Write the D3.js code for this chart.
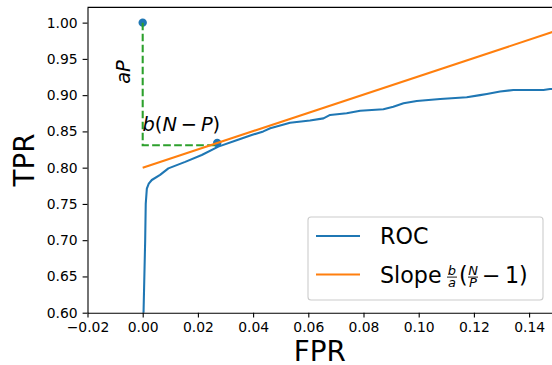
<!DOCTYPE html>
<html>
<head>
<meta charset="utf-8">
<script src="https://cdn.jsdelivr.net/npm/d3@7"></script>
<style>
  body { margin: 0; background: #fff; }
  svg { display: block; font-family: "DejaVu Sans", sans-serif; }
</style>
</head>
<body>
<div id="chart"></div>
<script>
var svgWidth = 552;
var svgHeight = 365;

// ROC curve
var rocFpr = [0.0003, 0.0003, 0.0009, 0.0011, 0.0015, 0.0022, 0.0033, 0.0063, 0.0093, 0.0154, 0.0214,
  0.0274, 0.0335, 0.0395, 0.0437, 0.0462, 0.0534, 0.0606, 0.0655, 0.0679, 0.0739, 0.0788, 0.0872,
  0.0908, 0.0945, 0.0993, 0.1078, 0.1174, 0.1222, 0.1247, 0.1295, 0.1343, 0.1452, 0.1476, 0.15];
var rocTpr = [0.50, 0.60, 0.70, 0.75, 0.771, 0.778, 0.783, 0.790, 0.799, 0.808, 0.8175,
  0.829, 0.837, 0.845, 0.850, 0.8543, 0.862, 0.865, 0.868, 0.8727, 0.875, 0.8786, 0.8805,
  0.884, 0.8888, 0.892, 0.8948, 0.897, 0.900, 0.9017, 0.9049, 0.9072, 0.9072, 0.9085, 0.9085];

// tangent line
var slopeX = [0, 0.15];
var slopeY = [0.80, 0.989];

// the two marked points and the dashed construction
var pointX = [0, 0.027];
var pointY = [1.0, 0.834];
var dashX = [0, 0, 0.027];
var dashY = [1.0, 0.831, 0.831];

var xTicks = [-0.02, 0, 0.02, 0.04, 0.06, 0.08, 0.10, 0.12, 0.14];
var yTicks = [0.60, 0.65, 0.70, 0.75, 0.80, 0.85, 0.90, 0.95, 1.00];

var blue = "#1f77b4", orange = "#ff7f0e", green = "#2ca02c";

var x = d3.scaleLinear().domain([-0.02, 0.15]).range([87.5, 556.7]);
var y = d3.scaleLinear().domain([0.6, 1.021]).range([312.7, 7.4]);

var svg = d3.select("#chart").append("svg")
  .attr("width", svgWidth)
  .attr("height", svgHeight);

svg.append("clipPath").attr("id", "plotclip")
  .append("rect")
  .attr("x", x.range()[0]).attr("y", y.range()[1])
  .attr("width", x.range()[1] - x.range()[0])
  .attr("height", y.range()[0] - y.range()[1]);

var plot = svg.append("g").attr("clip-path", "url(#plotclip)");

// dots
plot.selectAll("circle.pt")
  .data(pointX)
  .enter()
  .append("circle")
  .attr("class", "pt")
  .attr("cx", d => x(d))
  .attr("cy", (d, i) => y(pointY[i]))
  .attr("r", 4.2)
  .attr("fill", blue);

var line = d3.line()
  .x(d => x(d[0]))
  .y(d => y(d[1]));

// dashed green construction
plot.append("path")
  .datum(dashX.map((d, i) => [d, dashY[i]]))
  .attr("d", line)
  .attr("fill", "none")
  .attr("stroke", green)
  .attr("stroke-width", 2.08)
  .attr("stroke-dasharray", "7.7,3.3");

// ROC
plot.append("path")
  .datum(rocFpr.map((d, i) => [d, rocTpr[i]]))
  .attr("d", line)
  .attr("fill", "none")
  .attr("stroke", blue)
  .attr("stroke-width", 2.08)
  .attr("stroke-linejoin", "round");

// slope
plot.append("path")
  .datum(slopeX.map((d, i) => [d, slopeY[i]]))
  .attr("d", line)
  .attr("fill", "none")
  .attr("stroke", orange)
  .attr("stroke-width", 2.08);

// axes
var xAxis = svg.append("g")
  .attr("transform", `translate(0, ${y.range()[0]})`)
  .call(d3.axisBottom(x).tickValues(xTicks).tickSize(4.9).tickSizeOuter(0).tickPadding(4.9)
    .tickFormat(d => d3.format(".2f")(d).replace("-", "\u2212")));

var yAxis = svg.append("g")
  .attr("transform", `translate(${x.range()[0]}, 0)`)
  .call(d3.axisLeft(y).tickValues(yTicks).tickSize(4.9).tickSizeOuter(0).tickPadding(4.9)
    .tickFormat(d3.format(".2f")));

svg.selectAll(".tick text")
  .attr("font-family", "DejaVu Sans")
  .attr("font-size", 13.9)
  .attr("fill", "#000");
svg.selectAll(".tick line, .domain")
  .attr("stroke", "#000")
  .attr("stroke-width", 1.1);

// top spine
svg.append("line")
  .attr("x1", x.range()[0]).attr("x2", x.range()[1])
  .attr("y1", y.range()[1]).attr("y2", y.range()[1])
  .attr("stroke", "#000").attr("stroke-width", 1.1);

// axis labels
svg.append("text")
  .attr("x", (x.range()[0] + 552) / 2)
  .attr("y", 361)
  .attr("text-anchor", "middle")
  .attr("font-size", 27.8)
  .text("FPR");

svg.append("text")
  .attr("transform", `translate(34, ${(y.range()[0] + y.range()[1]) / 2}) rotate(-90)`)
  .attr("text-anchor", "middle")
  .attr("font-size", 27.8)
  .text("TPR");

// annotations
svg.append("text")
  .attr("transform", "translate(130, 72) rotate(-90)")
  .attr("text-anchor", "middle")
  .attr("font-size", 19.4)
  .attr("font-style", "italic")
  .text("aP");

var bnp = svg.append("text")
  .attr("x", 142.5)
  .attr("y", 130.7)
  .attr("font-size", 19.4);
bnp.append("tspan").attr("font-style", "italic").text("b");
bnp.append("tspan").text("(");
bnp.append("tspan").attr("font-style", "italic").text("N");
bnp.append("tspan").text("\u2009\u2212\u2009");
bnp.append("tspan").attr("font-style", "italic").text("P");
bnp.append("tspan").text(")");

// legend
var legend = svg.append("g");
legend.append("rect")
  .attr("x", 308).attr("y", 217)
  .attr("width", 235).attr("height", 83)
  .attr("rx", 3)
  .attr("fill", "#fff").attr("fill-opacity", 0.8)
  .attr("stroke", "#cccccc").attr("stroke-width", 1.1);

var legendColors = [blue, orange];
var legendY = [236, 274.5];
legend.selectAll("line.key")
  .data(legendColors)
  .enter()
  .append("line")
  .attr("class", "key")
  .attr("x1", 316).attr("x2", 360)
  .attr("y1", (d, i) => legendY[i]).attr("y2", (d, i) => legendY[i])
  .attr("stroke", d => d)
  .attr("stroke-width", 2.08);

legend.append("text")
  .attr("x", 380).attr("y", 244.3)
  .attr("font-size", 22.2)
  .text("ROC");

var base = 282.6;
legend.append("text")
  .attr("x", 380).attr("y", base)
  .attr("font-size", 22.2)
  .text("Slope");

function frac(cx, num, den) {
  legend.append("text")
    .attr("x", cx).attr("y", base - 7.5)
    .attr("text-anchor", "middle")
    .attr("font-size", 13)
    .attr("font-style", "italic")
    .text(num);
  legend.append("line")
    .attr("x1", cx - 5).attr("x2", cx + 5)
    .attr("y1", base - 5.5).attr("y2", base - 5.5)
    .attr("stroke", "#000").attr("stroke-width", 0.9);
  legend.append("text")
    .attr("x", cx).attr("y", base + 4.5)
    .attr("text-anchor", "middle")
    .attr("font-size", 13)
    .attr("font-style", "italic")
    .text(den);
}
frac(452, "b", "a");
legend.append("text").attr("x", 459).attr("y", base).attr("font-size", 22.2).text("(");
frac(473, "N", "P");
legend.append("text").attr("x", 482).attr("y", base).attr("font-size", 22.2).text("\u2212");
legend.append("text").attr("x", 505).attr("y", base).attr("font-size", 22.2).text("1)");
</script>
</body>
</html>
